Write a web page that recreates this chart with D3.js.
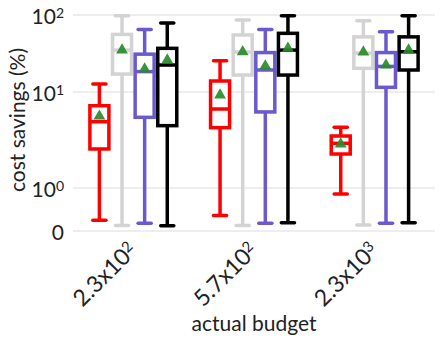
<!DOCTYPE html>
<html>
<head>
<meta charset="utf-8">
<script src="https://cdn.jsdelivr.net/npm/d3@7"></script>
<style>
  body { margin: 0; background: #fff; }
  text { font-family: Lato, "Open Sans", sans-serif; fill: #222; }
</style>
</head>
<body>
<svg id="chart" width="440" height="345"></svg>
<script>
// budgets shown as base x 10^exp
const budgetBase = ['2.3x10', '5.7x10', '2.3x10']
const budgetExp = ['2', '2', '3']
const methods = ['m1', 'm2', 'm3', 'm4']
const colors = ['#ff0000', '#d3d3d3', '#6a5acd', '#000000']

// one row per method, one value per budget
const whiskLo = [[0.25, 0.36, 0.86], [0.13, 0.13, 0.14], [0.18, 0.18, 0.18], [0.12, 0.19, 0.19]]
const q1 = [[2.55, 4.25, 2.26], [17.1, 16.6, 20.3], [5.45, 6.2, 11.5], [4.46, 16.6, 19.3]]
const median = [[4.9, 6.65, 2.92], [35, 33, 32], [18.4, 19.3, 21.5], [22.4, 35, 33.3]]
const q3 = [[7.2, 13.9, 3.48], [56, 55, 52], [31, 32.5, 32.5], [36.9, 57.8, 52]]
const whiskHi = [[12.7, 25.5, 4.29], [98, 86, 84], [65, 65, 60.6], [79, 98, 98]]
const means = [[5.6, 9.3, 2.87], [35, 33.3, 33], [19.9, 21.8, 22.4], [26, 36.9, 35]]

const yTicks = [0, 1, 10, 100]
const yTickLabels = [['0', ''], ['10', '0'], ['10', '1'], ['10', '2']]

const svg = d3.select('#chart')
const left = 73, right = 435

// below 1 the axis is linear, above it is logarithmic
const yLin = d3.scaleLinear().domain([0, 1]).range([231, 188])
const yLog = d3.scaleLog().domain([1, 10, 100]).range([188, 92, 15])
const y = v => (v < 1 ? yLin(v) : yLog(v))

const x = d3.scaleBand().domain(d3.range(budgetBase.length)).range([left, right])
const xs = d3.scaleBand().domain(methods)
  .range([x.bandwidth() * 0.125, x.bandwidth() * 0.875])

// grid
svg.append('g').selectAll('line').data(yTicks).join('line')
  .attr('x1', left).attr('x2', right)
  .attr('y1', d => y(d)).attr('y2', d => y(d))
  .attr('stroke', '#dcdcdc').attr('stroke-width', 1)

// y tick labels
const yl = svg.append('g').selectAll('text').data(yTicks).join('text')
  .attr('x', 64).attr('y', d => y(d)).attr('dy', '0.42em')
  .attr('text-anchor', 'end').attr('font-size', 21)
yl.append('tspan').text((d, i) => yTickLabels[i][0])
yl.append('tspan').attr('dy', '-0.45em').attr('font-size', 14)
  .text((d, i) => yTickLabels[i][1])

svg.append('text')
  .attr('transform', 'translate(25,120) rotate(-90)')
  .attr('text-anchor', 'middle').attr('font-size', 21)
  .text('cost savings (%)')

// x tick labels
const xl = svg.append('g').selectAll('text').data(budgetBase).join('text')
  .attr('transform', (d, i) => `translate(${x(i) + x.bandwidth() / 2 + 5},252) rotate(-45)`)
  .attr('text-anchor', 'end').attr('font-size', 23)
xl.append('tspan').text(d => d)
xl.append('tspan').attr('dy', '-0.45em').attr('font-size', 15)
  .text((d, i) => budgetExp[i])

svg.append('text')
  .attr('x', (left + right) / 2).attr('y', 331)
  .attr('text-anchor', 'middle').attr('font-size', 21)
  .text('actual budget')

// boxes
const bw = xs.bandwidth() * 0.84
const cw = xs.bandwidth() * 0.58
methods.forEach(function(m, s) {
  const g = svg.append('g')
    .attr('stroke', colors[s]).attr('stroke-width', 3.5).attr('fill', 'none')
  budgetBase.forEach(function(b, i) {
    const cx = x(i) + xs(m) + xs.bandwidth() / 2
    g.append('line').attr('x1', cx).attr('x2', cx)
      .attr('y1', y(whiskLo[s][i])).attr('y2', y(q1[s][i]))
    g.append('line').attr('x1', cx).attr('x2', cx)
      .attr('y1', y(q3[s][i])).attr('y2', y(whiskHi[s][i]))
    g.append('line').attr('x1', cx - cw / 2).attr('x2', cx + cw / 2)
      .attr('y1', y(whiskLo[s][i])).attr('y2', y(whiskLo[s][i]))
      .attr('stroke-linecap', 'round')
    g.append('line').attr('x1', cx - cw / 2).attr('x2', cx + cw / 2)
      .attr('y1', y(whiskHi[s][i])).attr('y2', y(whiskHi[s][i]))
      .attr('stroke-linecap', 'round')
    g.append('rect').attr('x', cx - bw / 2).attr('width', bw)
      .attr('y', y(q3[s][i])).attr('height', y(q1[s][i]) - y(q3[s][i]))
      .attr('fill', '#fff')
    g.append('line').attr('x1', cx - bw / 2).attr('x2', cx + bw / 2)
      .attr('y1', y(median[s][i])).attr('y2', y(median[s][i]))
  })
})

// means
methods.forEach(function(m, s) {
  svg.append('g').selectAll('path').data(means[s]).join('path')
    .attr('d', d3.symbol(d3.symbolTriangle, 60))
    .attr('transform', (d, i) =>
      `translate(${x(i) + xs(m) + xs.bandwidth() / 2},${y(d)})`)
    .attr('fill', '#2a8a2a').attr('fill-opacity', 0.92)
})
</script>
</body>
</html>
